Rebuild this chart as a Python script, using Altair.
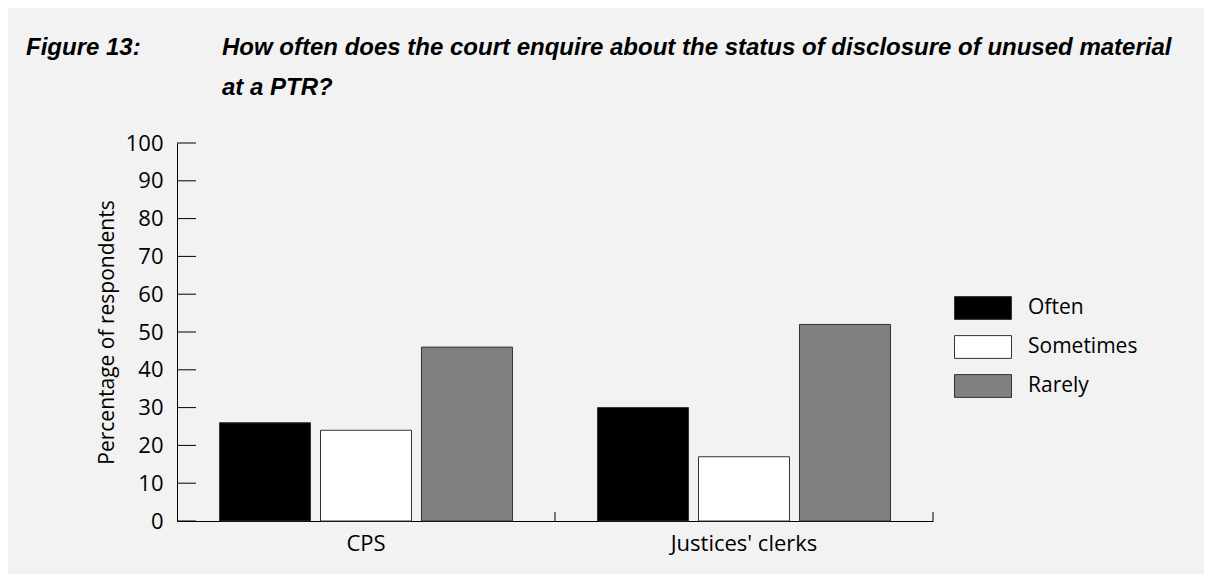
import altair as alt
import pandas as pd

# ---- data ----
groups = ["CPS", "Justices' clerks"]
responses = ["Often", "Sometimes", "Rarely"]
cps_values = [26, 24, 46]
clerks_values = [30, 17, 52]
colors = ["#000000", "#ffffff", "#808080"]
y_ticks = [0, 10, 20, 30, 40, 50, 60, 70, 80, 90, 100]
fig_label = "Figure 13:"
title_lines = [
    "How often does the court enquire about the status of disclosure of unused material",
    "at a PTR?",
]

rows = []
for g, vals in zip(groups, [cps_values, clerks_values]):
    for r, v in zip(responses, vals):
        rows.append({"group": g, "response": r, "value": v})
df = pd.DataFrame(rows)
ticks_df = pd.DataFrame({"value": y_ticks})
groups_df = pd.DataFrame({"group": groups})

BODY_FONT = "Open Sans"
TITLE_FONT = "Liberation Sans"

W, H = 756, 378

y_axis = alt.Axis(
    values=y_ticks, tickCount=11, ticks=False, grid=False, labelOverlap=False,
    labelSeparation=0,
    title="Percentage of respondents", titleFontSize=21,
    titleFont=BODY_FONT, titleFontWeight="normal", titleColor="#000000",
    titlePadding=8, labelFontSize=22, labelFont=BODY_FONT,
    labelColor="#000000", labelPadding=14,
    domainColor="#000000", domainWidth=1,
)
y_scale = alt.Scale(domain=[0, 100], nice=False)

x_axis = alt.Axis(
    title=None, ticks=False, labelAngle=0, labelFontSize=22,
    labelFont=BODY_FONT, labelColor="#000000", labelPadding=12,
    domainColor="#000000", domainWidth=1,
)
x_scale = alt.Scale(paddingInner=0, paddingOuter=0)

bars = alt.Chart(df).mark_bar(stroke="#333333", strokeWidth=1).encode(
    x=alt.X("group:N", sort=groups, scale=x_scale, axis=x_axis),
    xOffset=alt.XOffset(
        "response:N", sort=responses,
        scale=alt.Scale(paddingInner=0.099, paddingOuter=0.421),
    ),
    y=alt.Y("value:Q", scale=y_scale, axis=y_axis),
    color=alt.Color(
        "response:N", sort=responses,
        scale=alt.Scale(domain=responses, range=colors),
        legend=alt.Legend(
            title=None, orient="none", legendX=777, legendY=153,
            symbolType="M-1,-0.4H1V0.4H-1Z", symbolSize=3249,
            symbolStrokeColor="#333333", symbolStrokeWidth=1, symbolOpacity=1,
            labelFontSize=21, labelFont=BODY_FONT, labelColor="#000000",
            labelOffset=16, rowPadding=15, clipHeight=24, padding=0,
        ),
    ),
)

ytick_rules = alt.Chart(ticks_df).mark_rule(color="#000000", strokeWidth=1).encode(
    y=alt.Y("value:Q", scale=y_scale, axis=y_axis), x=alt.value(0), x2=alt.value(19)
)

xtick_rules = alt.Chart(groups_df).mark_rule(color="#000000", strokeWidth=1).encode(
    x=alt.X("group:N", sort=groups, scale=x_scale, axis=x_axis, bandPosition=1),
    y=alt.value(H), y2=alt.value(H - 9),
)

fig_text = alt.Chart(alt.Data(values=[{}])).mark_text(
    text=fig_label, align="left", baseline="alphabetic", font=TITLE_FONT,
    fontSize=24, fontStyle="italic", fontWeight="bold", color="#000000",
).encode(x=alt.value(-151), y=alt.value(-88))

title_text = alt.Chart(alt.Data(values=[{}])).mark_text(
    text=title_lines, align="left", baseline="alphabetic", font=TITLE_FONT,
    fontSize=24, fontStyle="italic", fontWeight="bold", color="#000000",
    lineHeight=40,
).encode(x=alt.value(45), y=alt.value(-88))

chart = alt.layer(bars, ytick_rules, xtick_rules, fig_text, title_text).properties(
    width=W, height=H,
    autosize=alt.AutoSizeParams(type="none"),
    padding={"left": 169, "top": 135, "right": 271, "bottom": 53},
    background="#f2f2f2",
).configure_view(stroke=None).configure_axis(labelOverlap=False)

chart.save("out.html", embed_options={"renderer": "svg", "actions": False})
